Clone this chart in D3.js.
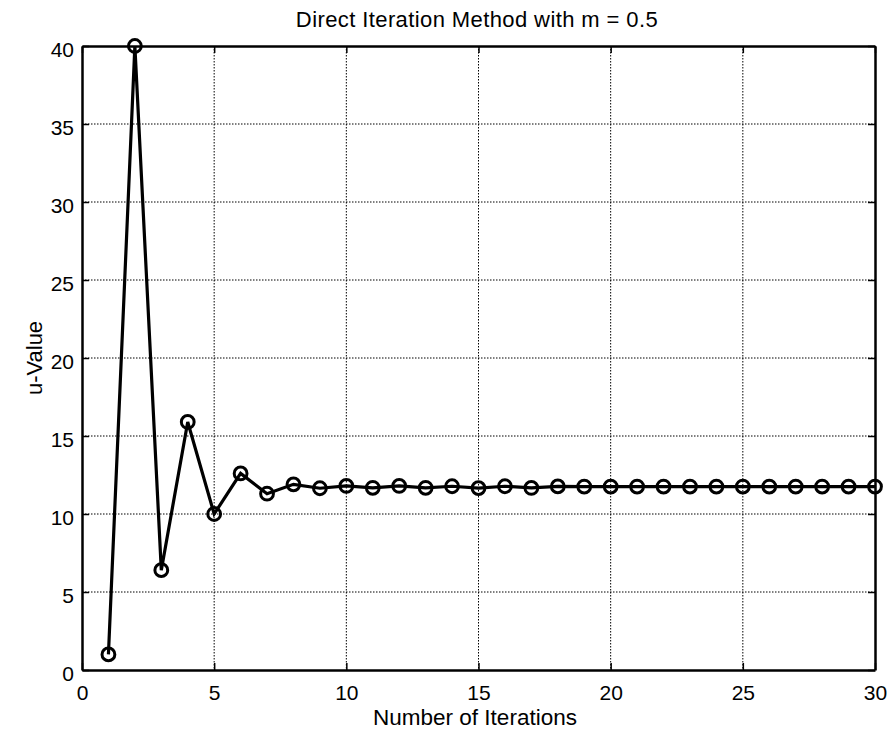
<!DOCTYPE html>
<html><head><meta charset="utf-8">
<script src="https://cdn.jsdelivr.net/npm/d3@7"></script>
<style>body{margin:0;background:#fff;} svg{display:block;font-family:"Liberation Sans",Arial,sans-serif;}</style>
</head><body>
<svg id="c" width="893" height="736"></svg>
<script>
const iterations = d3.range(1, 31);
const uValues = [1.0, 40.0, 6.4, 15.9, 10.0, 12.6, 11.3, 11.9, 11.65, 11.8,
  11.68, 11.8, 11.68, 11.78, 11.66, 11.78, 11.67, 11.77, 11.76, 11.76,
  11.76, 11.76, 11.76, 11.76, 11.76, 11.76, 11.76, 11.76, 11.76, 11.76];
const xTicks = [0, 5, 10, 15, 20, 25, 30];
const yTicks = [0, 5, 10, 15, 20, 25, 30, 35, 40];
const title = "Direct Iteration Method with m = 0.5";
const xLabel = "Number of Iterations";
const yLabel = "u-Value";

const L = 82, R = 875, T = 46, B = 670;
const svg = d3.select("#c");
const x = d3.scaleLinear().domain([0, 30]).range([L, R]);
const y = d3.scaleLinear().domain([0, 40]).range([B, T]);

// grid
const g = svg.append("g");
g.selectAll(".gx").data(xTicks.slice(1, -1)).enter().append("line")
  .attr("x1", d => x(d)).attr("x2", d => x(d)).attr("y1", T).attr("y2", B)
  .attr("stroke", "#000").attr("stroke-width", 1).attr("stroke-dasharray", "1.5,1.5");
g.selectAll(".gy").data(yTicks.slice(1, -1)).enter().append("line")
  .attr("y1", d => y(d)).attr("y2", d => y(d)).attr("x1", L).attr("x2", R)
  .attr("stroke", "#000").attr("stroke-width", 1).attr("stroke-dasharray", "1.5,1.5");

// axes
const xa = svg.append("g").attr("transform", `translate(0,${B})`)
  .call(d3.axisBottom(x).tickValues(xTicks).tickSizeInner(-7).tickSizeOuter(0).tickPadding(15));
const xa2 = svg.append("g").attr("transform", `translate(0,${T})`)
  .call(d3.axisTop(x).tickValues(xTicks).tickSizeInner(-7).tickSizeOuter(0).tickFormat(""));
const ya = svg.append("g").attr("transform", `translate(${L},0)`)
  .call(d3.axisLeft(y).tickValues(yTicks).tickSizeInner(-7).tickSizeOuter(0).tickPadding(8));
const ya2 = svg.append("g").attr("transform", `translate(${R},0)`)
  .call(d3.axisRight(y).tickValues(yTicks).tickSizeInner(-7).tickSizeOuter(0).tickFormat(""));
[xa, xa2, ya, ya2].forEach(a => {
  a.attr("font-size", 21).attr("font-family", "Liberation Sans, Arial, sans-serif");
  a.select(".domain").attr("stroke", "#000").attr("stroke-width", 2.5);
  a.selectAll(".tick line").attr("stroke", "#000").attr("stroke-width", 1.5);
  a.selectAll("text").attr("fill", "#000");
});
ya.selectAll("text").attr("dy", "0.5em");

// line + markers
const pts = iterations.map((it, i) => [it, uValues[i]]);
svg.append("path").datum(pts)
  .attr("d", d3.line().x(d => x(d[0])).y(d => y(d[1])))
  .attr("fill", "none").attr("stroke", "#000").attr("stroke-width", 3.2).attr("stroke-linejoin", "miter");
svg.selectAll(".m").data(pts).enter().append("circle")
  .attr("cx", d => x(d[0])).attr("cy", d => y(d[1])).attr("r", 6.4)
  .attr("fill", "none").attr("stroke", "#000").attr("stroke-width", 3);

// texts
svg.append("text").attr("x", 477).attr("y", 27).attr("text-anchor", "middle")
  .attr("font-size", 22).attr("letter-spacing", 0.4).text(title);
svg.append("text").attr("x", 475).attr("y", 725).attr("text-anchor", "middle")
  .attr("font-size", 22.5).text(xLabel);
svg.append("text").attr("transform", `translate(42,${(T + B) / 2}) rotate(-90)`)
  .attr("text-anchor", "middle").attr("font-size", 22).text(yLabel);
</script>
</body></html>
